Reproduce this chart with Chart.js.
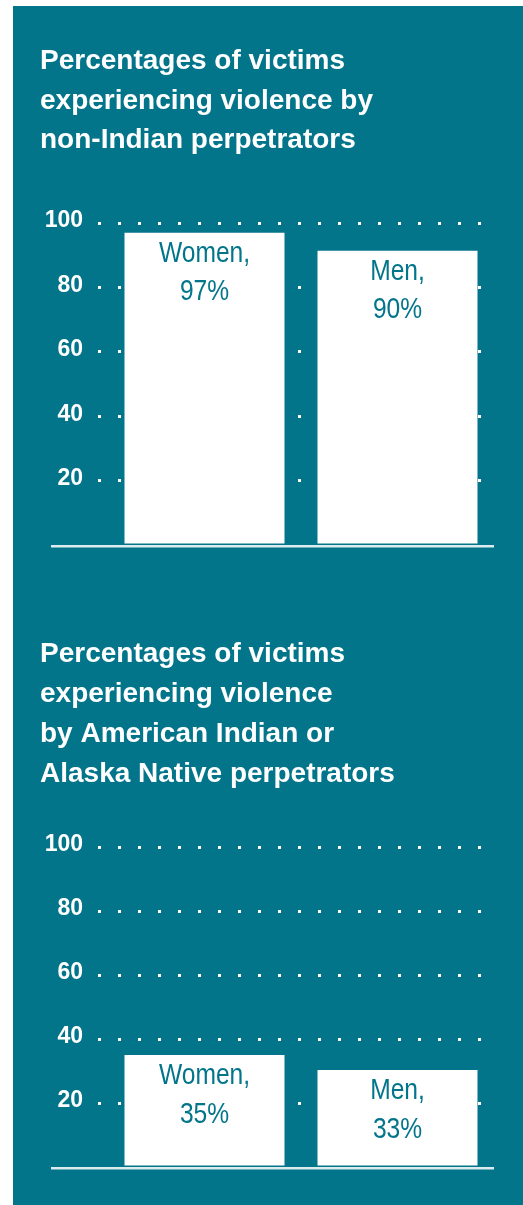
<!DOCTYPE html>
<html>
<head>
<meta charset="utf-8">
<script src="https://cdn.jsdelivr.net/npm/chart.js@4.4.1/dist/chart.umd.min.js"></script>
<style>
  html, body { margin: 0; padding: 0; background: #fff; }
  body { position: relative; width: 523px; height: 1205px; overflow: hidden; }
  #panel { position: absolute; left: 13px; top: 6px; width: 510px; height: 1199px; background: #03758b; }
  canvas { position: absolute; left: 0; }
  #chartTop { top: 0; }
  #chartBottom { top: 600px; }
</style>
</head>
<body>
<div id="panel"></div>
<canvas id="chartTop" width="523" height="565"></canvas>
<canvas id="chartBottom" width="523" height="600"></canvas>

<script>
const TEAL = '#03758b';

const categories = ['Women', 'Men'];

const titleTop = ['Percentages of victims', 'experiencing violence by', 'non-Indian perpetrators'];
const nonIndianValues = [97, 91.4];
const nonIndianPct = ['97%', '90%'];

const titleBottom = ['Percentages of victims', 'experiencing violence', 'by American Indian or', 'Alaska Native perpetrators'];
const aianValues = [35, 30.3];
const aianPct = ['35%', '33%'];

const yTicks = [0, 20, 40, 60, 80, 100];

// white base line under the bars, runs a bit past the axis to the left
const baseLine = {
  id: 'baseLine',
  afterDatasetsDraw(chart) {
    const { ctx, chartArea, scales } = chart;
    const y0 = scales.y.getPixelForValue(0);
    ctx.save();
    ctx.strokeStyle = '#dcebee';
    ctx.lineWidth = 2.5;
    ctx.beginPath();
    ctx.moveTo(chartArea.left - 57, y0 + 1.25);
    ctx.lineTo(chartArea.right, y0 + 1.25);
    ctx.stroke();
    ctx.restore();
  }
};

// "Women,\n97%" text inside the top of each bar (condensed look via scaleX)
const barText = {
  id: 'barText',
  afterDatasetsDraw(chart, args, opts) {
    const { ctx } = chart;
    const meta = chart.getDatasetMeta(0);
    ctx.save();
    ctx.fillStyle = TEAL;
    ctx.font = '30px "Liberation Sans", Arial, sans-serif';
    ctx.textAlign = 'center';
    ctx.textBaseline = 'alphabetic';
    meta.data.forEach((bar, i) => {
      const lines = [categories[i] + ',', opts.pct[i]];
      lines.forEach((line, k) => {
        ctx.save();
        ctx.translate(bar.x, bar.y + 29 + k * 38.5);
        ctx.scale(0.82, 1);
        ctx.fillText(line, 0, 0);
        ctx.restore();
      });
    });
    ctx.restore();
  }
};

const dotColor = c => (c.tick && c.tick.value === 0 ? 'rgba(0,0,0,0)' : '#ffffff');

function makeChart(id, title, values, pct, titlePad, bottomPad) {
  return new Chart(document.getElementById(id), {
    type: 'bar',
    data: {
      labels: categories,
      datasets: [{
        data: values,
        backgroundColor: '#ffffff',
        borderWidth: 0,
        barPercentage: 0.829,
        categoryPercentage: 1
      }]
    },
    options: {
      responsive: false,
      animation: false,
      layout: { padding: { left: 40, right: 29, top: 0, bottom: bottomPad } },
      plugins: {
        legend: { display: false },
        tooltip: { enabled: false },
        title: {
          display: true,
          text: title,
          align: 'start',
          color: '#ffffff',
          font: { family: '"Liberation Sans", Arial, sans-serif', size: 28, weight: 'bold', lineHeight: titlePad.lh + 'px' },
          padding: { top: titlePad.top, bottom: titlePad.bottom }
        },
        barText: { pct }
      },
      scales: {
        x: { display: false },
        y: {
          min: yTicks[0],
          max: yTicks[yTicks.length - 1],
          afterBuildTicks: scale => { scale.ticks = yTicks.map(v => ({ value: v })); },
          afterFit: scale => { scale.width = 68; },
          ticks: {
            color: '#ffffff',
            padding: 0,
            labelOffset: -2,
            font: { family: '"Liberation Sans", Arial, sans-serif', size: 23, weight: 'bold' },
            callback: v => (v === 0 ? '' : v)
          },
          border: { display: false, dash: [3, 17], dashOffset: 10 },
          grid: {
            color: dotColor,
            lineWidth: 3,
            drawTicks: true,
            tickLength: 25,
            tickWidth: 3,
            tickColor: dotColor,
            tickBorderDash: [3, 17],
            tickBorderDashOffset: 5
          }
        }
      }
    },
    plugins: [baseLine, barText]
  });
}

makeChart('chartTop', titleTop, nonIndianValues, nonIndianPct, { top: 42, bottom: 62.5, lh: 39.5 }, 20);
makeChart('chartBottom', titleBottom, aianValues, aianPct, { top: 34.3, bottom: 52.7, lh: 40 }, 33);
</script>
</body>
</html>
